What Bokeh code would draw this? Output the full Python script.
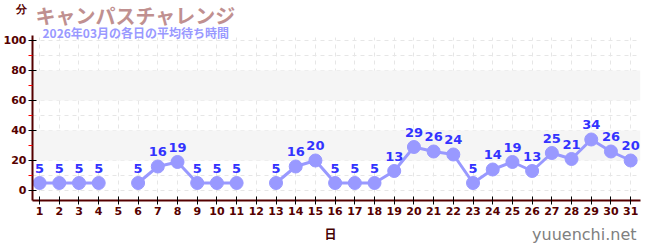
from bokeh.plotting import figure
from bokeh.layouts import column
from bokeh.models import ColumnDataSource, Label, BoxAnnotation, FixedTicker, Range1d
from bokeh.core.properties import value
from bokeh.embed import file_html
from bokeh.resources import INLINE
import numpy as np

days = list(range(1, 32))
waits = [5, 5, 5, 5, None, 5, 16, 19, 5, 5, 5, None, 5, 16, 20, 5, 5, 5, 13, 29,
         26, 24, 5, 14, 19, 13, 25, 21, 34, 26, 20]
title_text = "キャンパスチャレンジ"
subtitle_text = "2026年03月の各日の平均待ち時間"
y_unit = "分"
x_unit = "日"
credit = "yuuenchi.net"
y_ticks = [0, 20, 40, 60, 80, 100]
y_minor = [10, 30, 50, 70, 90]

y = np.array([np.nan if v is None else v for v in waits], dtype=float)
src = ColumnDataSource(dict(x=days, y=y, lab=["" if v is None else str(v) for v in waits]))

# main chart (canvas rows 0..220); frame spans rows 0..200 so header texts sit inside it
y_lo, y_hi = -6.67, 126.67
p = figure(width=650, height=220, output_backend="svg", toolbar_location=None, title=None,
           x_range=Range1d(0.64, 31.5), y_range=Range1d(y_lo, y_hi),
           min_border_left=31, min_border_right=10, min_border_top=0, min_border_bottom=20)
p.outline_line_color = None
p.background_fill_color = "white"

for lo, hi in [(20, 40), (60, 80)]:
    p.add_layout(BoxAnnotation(bottom=lo, top=hi, fill_color="#f5f5f5", fill_alpha=1,
                               line_color=None, level="underlay"))

p.xgrid.ticker = FixedTicker(ticks=days)
p.xgrid.grid_line_color = "#e6e6e6"
p.xgrid.grid_line_dash = "4 4"
p.ygrid.ticker = FixedTicker(ticks=y_ticks + y_minor)
p.ygrid.grid_line_color = "#e6e6e6"
p.ygrid.grid_line_dash = "4 4"
# blank header area above the grid
p.add_layout(BoxAnnotation(bottom=102, left=0.75, fill_color="white", fill_alpha=1,
                           line_color=None, level="guide"))

p.line("x", "y", source=src, line_color="#9999ff", line_width=3)
p.scatter("x", "y", source=src, size=13, fill_color="#9999ff", line_color="#9999ff")
p.text("x", "y", text="lab", source=src, text_align="center", text_baseline="bottom",
       y_offset=-10, text_color="#3333ff", text_font_size="13px", text_font_style="bold",
       text_font=value("DejaVu Sans"))

ax_col = "#550000"
p.xaxis.ticker = FixedTicker(ticks=days)
p.xaxis.axis_line_color = ax_col
p.xaxis.axis_line_width = 2
p.xaxis.major_tick_line_color = "black"
p.xaxis.major_tick_in = 4
p.xaxis.major_tick_out = 4
p.xaxis.minor_tick_line_color = None
p.xaxis.major_label_text_color = ax_col
p.xaxis.major_label_text_font_style = "bold"
p.xaxis.major_label_text_font_size = "11px"
p.xaxis.major_label_text_font = "DejaVu Sans"
p.xaxis.major_label_standoff = 2

p.yaxis.ticker = FixedTicker(ticks=y_ticks, minor_ticks=y_minor)
p.yaxis.bounds = (y_lo, 103.3)
p.yaxis.major_label_overrides = {100: y_unit + "\n\n100\n\n"}
p.yaxis.axis_line_color = ax_col
p.yaxis.axis_line_width = 2
p.yaxis.major_tick_line_color = "black"
p.yaxis.major_tick_in = 4
p.yaxis.major_tick_out = 4
p.yaxis.minor_tick_line_color = "red"
p.yaxis.minor_tick_in = 0
p.yaxis.minor_tick_out = 4
p.yaxis.major_label_text_color = ax_col
p.yaxis.major_label_text_font_style = "bold"
p.yaxis.major_label_text_font_size = "11px"
p.yaxis.major_label_text_font = "DejaVu Sans"
p.yaxis.major_label_standoff = 2


def add_text(f, txt, x, yy, col, fs, font, align, bold):
    f.add_layout(Label(x=x, y=yy, x_units="canvas", y_units="canvas", text=txt,
                       text_color=col, text_font_size=fs,
                       text_font_style="bold" if bold else "normal",
                       text_font=font, text_baseline="top", text_align=align))


add_text(p, title_text, 35, 0, "#c09090", "20px", "Noto Sans CJK JP", "left", True)
add_text(p, subtitle_text, 42, 23, "#9999ff", "12px", "Noto Sans CJK JP", "left", True)

# footer (canvas rows 220..250)
foot = figure(width=650, height=30, output_backend="svg", toolbar_location=None,
              x_axis_location=None, y_axis_location=None, title=None,
              x_range=Range1d(0, 1), y_range=Range1d(0, 1),
              min_border=0, min_border_left=0, min_border_right=0,
              min_border_top=0, min_border_bottom=0)
foot.outline_line_color = None
foot.xgrid.visible = False
foot.ygrid.visible = False
add_text(foot, x_unit, 330, 4, "#440000", "12px", "Noto Sans CJK JP", "center", True)
add_text(foot, credit, 636, 4, "#808080", "16px", "DejaVu Sans", "right", False)

layout = column(p, foot, spacing=0)
open("out.html", "w").write(file_html(layout, INLINE))
